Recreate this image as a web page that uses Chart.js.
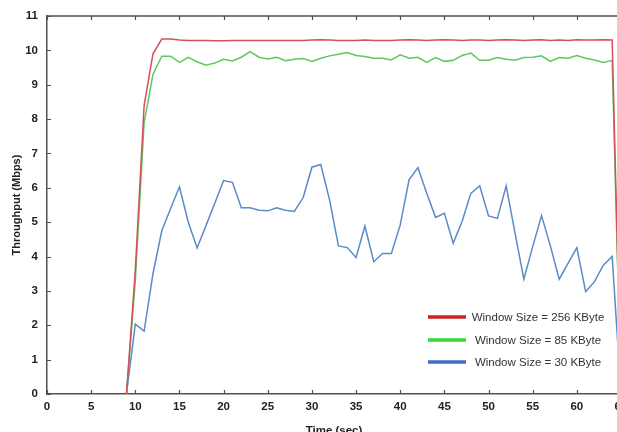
<!DOCTYPE html>
<html>
<head>
<meta charset="utf-8">
<script src="https://cdn.jsdelivr.net/npm/chart.js@4"></script>
<style>
  html, body { margin: 0; padding: 0; background: #fff; overflow: hidden; }
  #wrap { width: 660px; height: 440px; position: relative; }
</style>
</head>
<body>
<div id="wrap"><canvas id="c" width="660" height="440"></canvas></div>
<script>
// ---- data ----
const times = [9,10,11,12,13,14,15,16,17,18,19,20,21,22,23,24,25,26,27,28,29,30,31,32,33,34,35,36,37,38,39,40,41,42,43,44,45,46,47,48,49,50,51,52,53,54,55,56,57,58,59,60,61,62,63,64,65];
const win256 = [0,3.6,8.4,9.9,10.33,10.33,10.30,10.29,10.29,10.29,10.28,10.28,10.29,10.29,10.29,10.29,10.29,10.29,10.29,10.29,10.29,10.30,10.31,10.30,10.29,10.29,10.29,10.30,10.29,10.29,10.29,10.30,10.31,10.30,10.29,10.30,10.31,10.30,10.29,10.30,10.30,10.29,10.30,10.31,10.30,10.29,10.30,10.31,10.29,10.30,10.29,10.31,10.30,10.30,10.31,10.30,0];
const win85 = [0,3.3,7.9,9.3,9.83,9.83,9.65,9.80,9.67,9.57,9.63,9.74,9.69,9.80,9.96,9.80,9.75,9.80,9.70,9.74,9.76,9.68,9.77,9.84,9.89,9.94,9.85,9.82,9.77,9.77,9.72,9.87,9.77,9.80,9.65,9.79,9.68,9.71,9.85,9.92,9.71,9.71,9.79,9.74,9.71,9.79,9.80,9.84,9.68,9.79,9.77,9.85,9.77,9.72,9.65,9.71,0];
const win30 = [0,2.03,1.83,3.5,4.75,5.4,6.03,5.0,4.25,4.9,5.55,6.21,6.16,5.42,5.42,5.35,5.33,5.42,5.35,5.31,5.71,6.6,6.68,5.65,4.31,4.26,3.97,4.89,3.85,4.09,4.09,4.92,6.23,6.59,5.84,5.14,5.26,4.39,5.02,5.84,6.06,5.18,5.11,6.06,4.68,3.34,4.29,5.19,4.31,3.34,3.8,4.26,2.98,3.27,3.75,4.0,0];
const seriesLabels = ['Window Size = 256 KByte', 'Window Size = 85 KByte', 'Window Size = 30 KByte'];
const xTicks = [0,5,10,15,20,25,30,35,40,45,50,55,60,65];
const yTicks = [0,1,2,3,4,5,6,7,8,9,10,11];

const lineColors = ['#d4505a', '#5ec85e', '#5a8ac8'];
const swatchColors = ['#cc2222', '#33dd33', '#3f6fc4'];

function pts(vals) { return vals.map((v, i) => ({ x: times[i], y: v })); }

const AXIS = '#505050';

const framePlugin = {
  id: 'frame',
  afterDraw(chart) {
    const { ctx, chartArea: a, scales: { x, y } } = chart;
    ctx.save();
    ctx.strokeStyle = AXIS;
    ctx.lineWidth = 1.5;
    // top and right border
    ctx.beginPath();
    ctx.moveTo(a.left, a.top); ctx.lineTo(a.right, a.top); ctx.lineTo(a.right, a.bottom);
    ctx.stroke();
    // inward ticks
    ctx.lineWidth = 1.2;
    ctx.beginPath();
    xTicks.forEach(v => {
      const px = Math.round(x.getPixelForValue(v)) + 0.5;
      ctx.moveTo(px, a.bottom); ctx.lineTo(px, a.bottom - 4);
      ctx.moveTo(px, a.top); ctx.lineTo(px, a.top + 4);
    });
    yTicks.forEach(v => {
      const py = Math.round(y.getPixelForValue(v)) + 0.5;
      ctx.moveTo(a.left, py); ctx.lineTo(a.left + 4, py);
    });
    ctx.stroke();
    // legend
    const items = chart.data.datasets;
    const rowY = [y.getPixelForValue(0) - 77, y.getPixelForValue(0) - 54, y.getPixelForValue(0) - 32];
    ctx.font = '11.5px "Liberation Sans", Arial, sans-serif';
    ctx.textAlign = 'center';
    ctx.textBaseline = 'middle';
    items.forEach((ds, i) => {
      const yy = rowY[i];
      ctx.strokeStyle = swatchColors[i];
      ctx.lineWidth = 3.5;
      ctx.beginPath();
      ctx.moveTo(428, yy); ctx.lineTo(466, yy);
      ctx.stroke();
      ctx.fillStyle = '#333';
      ctx.fillText(ds.label, 538, yy + 0.5);
    });
    ctx.restore();
  }
};

new Chart(document.getElementById('c'), {
  type: 'line',
  data: {
    datasets: [
      { label: seriesLabels[0], data: pts(win256), borderColor: lineColors[0], borderWidth: 1.5, pointRadius: 0, tension: 0 },
      { label: seriesLabels[1], data: pts(win85), borderColor: lineColors[1], borderWidth: 1.5, pointRadius: 0, tension: 0 },
      { label: seriesLabels[2], data: pts(win30), borderColor: lineColors[2], borderWidth: 1.5, pointRadius: 0, tension: 0 }
    ]
  },
  options: {
    responsive: false,
    animation: false,
    events: [],
    layout: { padding: { top: 16, right: 39, left: 0, bottom: 0 } },
    plugins: { legend: { display: false }, tooltip: { enabled: false } },
    scales: {
      x: {
        type: 'linear', min: 0, max: 65,
        afterBuildTicks: s => { s.ticks = xTicks.map(v => ({ value: v })); },
        afterFit: s => { s.height = 46; },
        grid: { display: false, drawTicks: false },
        border: { display: true, color: AXIS, width: 1.5 },
        ticks: { color: '#222', padding: 6, maxRotation: 0, autoSkip: false,
                 font: { family: '"Liberation Sans", Arial, sans-serif', size: 11.5, weight: 'bold' } },
        title: { display: true, text: 'Time (sec)', color: '#222', padding: { top: 0, bottom: 2 },
                 font: { family: '"Liberation Sans", Arial, sans-serif', size: 11.5, weight: 'bold' } }
      },
      y: {
        min: 0, max: 11,
        afterBuildTicks: s => { s.ticks = yTicks.map(v => ({ value: v })); },
        afterFit: s => { s.width = 47; },
        grid: { display: false, drawTicks: false },
        border: { display: true, color: AXIS, width: 1.5 },
        ticks: { color: '#222', padding: 9, autoSkip: false,
                 font: { family: '"Liberation Sans", Arial, sans-serif', size: 11.5, weight: 'bold' } },
        title: { display: true, text: 'Throughput (Mbps)', color: '#222', padding: { top: 10, bottom: 0 },
                 font: { family: '"Liberation Sans", Arial, sans-serif', size: 11, weight: 'bold' } }
      }
    }
  },
  plugins: [framePlugin]
});
</script>
</body>
</html>
